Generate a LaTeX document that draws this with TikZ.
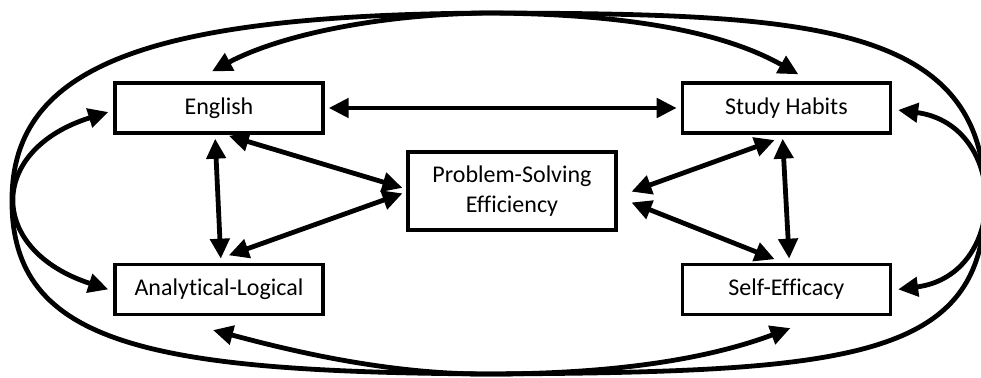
\documentclass[tikz,border=0pt]{standalone}
\usepackage{fontspec}
\setmainfont{Carlito}[Ligatures=NoCommon]
\usepackage{tikz}
\usetikzlibrary{arrows.meta,positioning}
\definecolor{Ink}{HTML}{000000}
\tikzset{box/.style={draw=Ink,line width=1.7pt,minimum width=104pt,minimum height=25pt,align=center,font=\fontsize{12}{15}\selectfont},flow/.style={{Triangle[length=10pt,width=9.5pt]}-{Triangle[length=10pt,width=9.5pt]},line width=2.4pt,draw=Ink,shorten >=2pt,shorten <=2pt},swing/.style={{Triangle[length=10pt,width=9.5pt]}-{Triangle[length=10pt,width=9.5pt]},line width=2.4pt,draw=Ink}}

\begin{document}
\begin{tikzpicture}[x=0.5pt,y=-0.5pt]
      \useasboundingbox (0,0) rectangle (981,378);
      \node[box](eng) at (219,108){English};
      \node[box,right=178pt of eng](study){Study Habits};
      \node[box,below=64pt of eng](anl){Analytical-Logical};
      \node[box,below=64pt of study](self){Self-Efficacy};
      \node[box,minimum height=39pt](ps) at (512,191){Problem-Solving\\Efficiency};
      \coordinate (top) at (490,13);\coordinate (bot) at (490,374);
      \draw[flow](eng.east)--(study.west);
      \draw[flow]([xshift=-2pt]eng.south)--([xshift=1pt]anl.north);
      \draw[flow]([xshift=3pt]eng.south)--([yshift=1pt]ps.west);
      \draw[flow]([xshift=3pt,yshift=3pt]anl.north)--([yshift=-.5pt]ps.west);
      \draw[flow]([xshift=-4pt,yshift=-2pt]study.south)--([xshift=5pt,yshift=-1pt]ps.east);
      \draw[flow]([xshift=5pt,yshift=-5pt]ps.east)--([xshift=-4pt,yshift=1pt]self.north);
      \draw[flow]([xshift=-2pt]study.south)--([xshift=1.5pt]self.north);
      % side loops
      \draw[swing]([xshift=-2.5pt,yshift=-2pt]eng.west) .. controls (-13,150) and (-13,250) .. ([xshift=-2.5pt]anl.west);
      \draw[swing]([xshift=3pt,yshift=-1pt]study.east) .. controls (1009,125) and (1009,275) .. ([xshift=3pt]self.east);
      % long loops round the whole figure
      \draw[swing]([xshift=6pt,yshift=3.5pt]study.north) .. controls (720,30) and (620,14) .. (top) .. controls (150,15) and (12,65) .. (12,200) .. controls (11,345) and (150,372) .. (bot) .. controls (600,374) and (700,362) .. ([xshift=2pt,yshift=-6pt]self.south);
      \draw[swing]([xshift=-3.5pt,yshift=5pt]eng.north) .. controls (280,35) and (380,14) .. (top) .. controls (800,14) and (985,20) .. (985,200) .. controls (985,360) and (850,372) .. (bot) .. controls (380,375) and (270,345) .. ([xshift=-3pt,yshift=-7pt]anl.south);
    \end{tikzpicture}
\end{document}
